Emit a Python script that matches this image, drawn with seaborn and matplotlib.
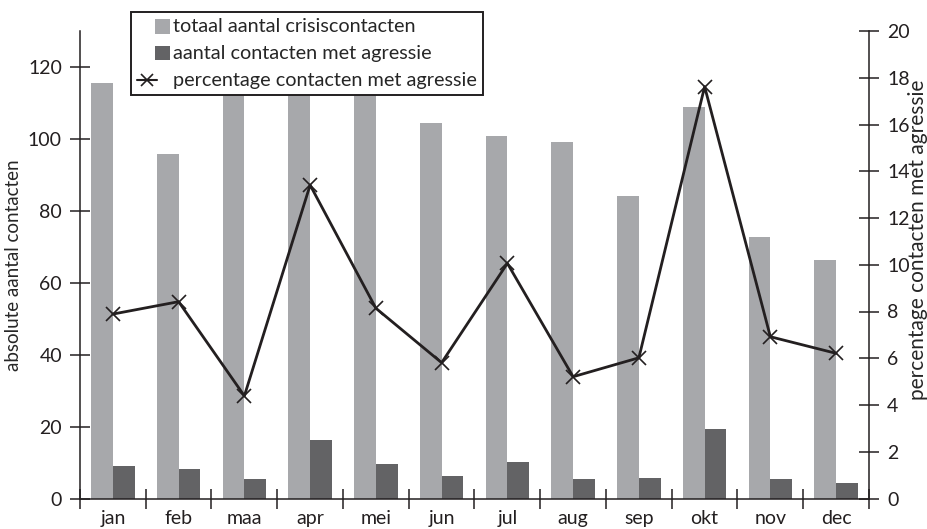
import numpy as np
import pandas as pd
import matplotlib
matplotlib.use("Agg")
import matplotlib.pyplot as plt
import seaborn as sns
from matplotlib.patches import Patch, Rectangle
from matplotlib.lines import Line2D

# data
months = ["jan", "feb", "maa", "apr", "mei", "jun", "jul", "aug", "sep", "okt", "nov", "dec"]
totaal = [115.5, 95.7, 125.0, 122.0, 120.0, 104.3, 100.7, 99.0, 84.0, 108.8, 72.8, 66.4]
agressie = [9.1, 8.3, 5.5, 16.3, 9.7, 6.3, 10.2, 5.5, 5.8, 19.4, 5.5, 4.4]
percentage = [7.89, 8.42, 4.39, 13.41, 8.14, 5.81, 10.06, 5.21, 6.02, 17.62, 6.92, 6.21]

lbl_tot = "totaal aantal crisiscontacten"
lbl_agr = "aantal contacten met agressie"
lbl_pct = "percentage contacten met agressie"

light = "#a7a8ab"
dark = "#636365"
ink = "#231f20"

sns.set_style("white")
plt.rcParams["font.family"] = ["Lato", "DejaVu Sans"]
plt.rcParams["font.size"] = 13

bars = pd.DataFrame({
    "maand": months * 2,
    "aantal": totaal + agressie,
    "reeks": [lbl_tot] * 12 + [lbl_agr] * 12,
})
line = pd.DataFrame({"maand": months, "pct": percentage})

fig = plt.figure(figsize=(9.28, 5.29), dpi=100)
ax = fig.add_axes([80 / 928, 30.5 / 529, 789 / 928, 467.5 / 529])

sns.barplot(data=bars, x="maand", y="aantal", hue="reeks", order=months,
            palette=[light, dark], width=0.66, saturation=1, gap=0,
            linewidth=0, ax=ax, legend=False)

ax2 = ax.twinx()
sns.pointplot(data=line, x="maand", y="pct", order=months, color=ink,
              markers="x", linestyles="-", ax=ax2, markersize=10,
              markeredgewidth=1.2, linewidth=2)

for a in (ax, ax2):
    a.set_xlim(-0.5, 11.5)
    a.set_xlabel("")
ax.set_ylim(0, 130)
ax2.set_ylim(0, 20)
ax.set_yticks(range(0, 121, 20))
ax2.set_yticks(range(0, 21, 2))
ax.set_ylabel("absolute aantal contacten", fontsize=13.5, labelpad=4)
ax2.set_ylabel(lbl_pct, fontsize=15)
ax2.yaxis.set_label_coords(1.049, 0.553)

# month labels at centres, tick marks on the boundaries
ax.set_xticks(range(12))
ax.set_xticklabels(months)
ax.set_xticks(np.arange(-0.5, 12, 1), minor=True)
ax.tick_params(axis="x", which="major", bottom=True, length=0, pad=8,
               labelsize=14, colors=ink)
ax.tick_params(axis="x", which="minor", bottom=True, direction="inout",
               length=14, width=1.1, color=ink)
ax.tick_params(axis="y", left=True, direction="inout", length=14, width=1.1,
               color=ink, labelcolor=ink, pad=6, labelsize=14)
ax2.tick_params(axis="y", right=True, direction="inout", length=14, width=1.1,
                color=ink, labelcolor=ink, pad=6, labelsize=14)

for a in (ax, ax2):
    a.spines["top"].set_visible(False)
    for side in ("left", "bottom", "right"):
        a.spines[side].set_color(ink)
        a.spines[side].set_linewidth(1.1)
ax.spines["right"].set_visible(False)
ax2.spines["left"].set_visible(False)
ax2.spines["bottom"].set_visible(False)


class SquareHandler:
    def legend_artist(self, legend, orig_handle, fontsize, handlebox):
        w, h = handlebox.width, handlebox.height
        s = 0.72 * fontsize
        rect = Rectangle((handlebox.xdescent + w - s, handlebox.ydescent + (h - s) / 2 - 1),
                         s, s, facecolor=orig_handle.get_facecolor(), edgecolor="none",
                         transform=handlebox.get_transform())
        handlebox.add_artist(rect)
        return rect


class CrossLineHandler:
    def legend_artist(self, legend, orig_handle, fontsize, handlebox):
        w, h = handlebox.width, handlebox.height
        x0 = handlebox.xdescent
        yc = handlebox.ydescent + h / 2 - 1
        seg = Line2D([x0, x0 + 0.6 * w], [yc, yc], color=ink, linewidth=1.5,
                     transform=handlebox.get_transform())
        mk = Line2D([x0 + 0.3 * w], [yc], color=ink, marker="x", markersize=8,
                    markeredgewidth=1.2, linestyle="none",
                    transform=handlebox.get_transform())
        handlebox.add_artist(seg)
        handlebox.add_artist(mk)
        return seg


h_tot = Patch(facecolor=light)
h_agr = Patch(facecolor=dark)
h_pct = Line2D([], [], color=ink, marker="x")
leg = fig.legend([h_tot, h_agr, h_pct], [lbl_tot, lbl_agr, lbl_pct],
                 loc="upper left", bbox_to_anchor=(131 / 928, 1 - 12 / 529),
                 handler_map={Patch: SquareHandler(), Line2D: CrossLineHandler()},
                 handlelength=1.65, handletextpad=0.18, labelspacing=0.5,
                 borderpad=0.3, borderaxespad=0, fancybox=False, framealpha=1,
                 edgecolor=ink, fontsize=14.3)
leg.get_frame().set_linewidth(1.4)
leg.set_zorder(10)

fig.savefig("out.png", dpi=100)
